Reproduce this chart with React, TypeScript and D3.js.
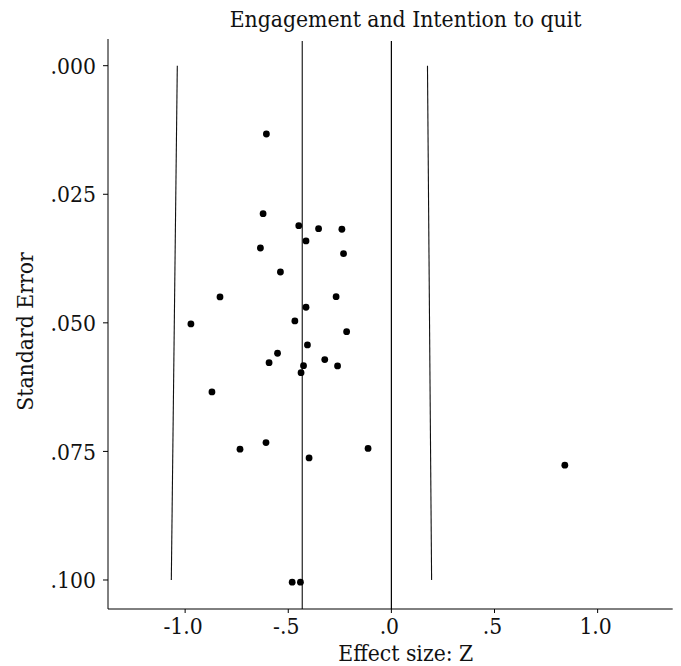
import React from "react";
import * as d3 from "d3";

const title = "Engagement and Intention to quit";
const xLabel = "Effect size: Z";
const yLabel = "Standard Error";

// Study effect sizes (Fisher Z) and standard errors
const effectZ = [
  -0.606, -0.622, -0.449, -0.353, -0.240, -0.414, -0.635, -0.232, -0.538, -0.831,
  -0.268, -0.414, -0.972, -0.468, -0.217, -0.407, -0.552, -0.593, -0.323, -0.426,
  -0.261, -0.438, -0.870, -0.608, -0.734, -0.113, -0.399, 0.841, -0.481, -0.441,
];
const stdErr = [
  0.01328, 0.02877, 0.0311, 0.03169, 0.0318, 0.03408, 0.03545, 0.03655, 0.04011, 0.04497,
  0.04491, 0.04697, 0.05021, 0.04963, 0.05171, 0.0543, 0.05591, 0.05774, 0.05715, 0.05832,
  0.05838, 0.05968, 0.06343, 0.07329, 0.07457, 0.07442, 0.07626, 0.07768, 0.10043, 0.10043,
];

// Funnel limits: [effect at SE=0, effect at SE=0.1]
const funnelLeft = [
  [-1.038, 0],
  [-1.067, 0.1],
];
const funnelRight = [
  [0.175, 0],
  [0.195, 0.1],
];
const meanEffect = -0.432;
const nullEffect = 0;

const xTicks = [-1.0, -0.5, 0, 0.5, 1.0];
const xTickLabels = ["-1.0", "-.5", ".0", ".5", "1.0"];
const yTicks = [0, 0.025, 0.05, 0.075, 0.1];
const yTickLabels = [".000", ".025", ".050", ".075", ".100"];

const FONT = "'DejaVu Serif Condensed', 'DejaVu Serif', serif";

export default function App() {
  const W = 681;
  const H = 666;
  const x = d3.scaleLinear().domain([-1.374, 1.364]).range([108, 672.7]);
  const y = d3.scaleLinear().domain([-0.00519, 0.10564]).range([39, 609]);
  const refTop = -0.0048;
  const [x0, x1] = x.range();
  const [y0, y1] = y.range();
  const line = d3
    .line<number[]>()
    .x((d) => x(d[0]))
    .y((d) => y(d[1]));

  const textStyle: React.CSSProperties = {
    fontFamily: FONT,
    fontStretch: "condensed",
    fontSize: 22.7,
    fill: "#111",
  };

  return (
    <svg
      width={W}
      height={H}
      style={{ position: "absolute", left: 0, top: 0, background: "#fff" }}
    >
      <rect x={0} y={0} width={W} height={H} fill="#fff" />
      {/* title */}
      <text x={405.5} y={27} textAnchor="middle" style={textStyle}>
        {title}
      </text>

      {/* reference lines */}
      <line
        x1={x(meanEffect)}
        x2={x(meanEffect)}
        y1={y(refTop)}
        y2={y1}
        stroke="#333"
        strokeWidth={1.3}
      />
      <line
        x1={x(nullEffect)}
        x2={x(nullEffect)}
        y1={y(refTop)}
        y2={y1}
        stroke="#000"
        strokeWidth={1.2}
      />
      <path d={line(funnelLeft) || ""} fill="none" stroke="#111" strokeWidth={1.1} />
      <path d={line(funnelRight) || ""} fill="none" stroke="#111" strokeWidth={1.1} />

      {/* points */}
      {effectZ.map((v, i) => (
        <circle key={i} cx={x(v)} cy={y(stdErr[i])} r={3.4} fill="#000" />
      ))}

      {/* axes */}
      <line x1={x0} x2={x0} y1={y0} y2={y1} stroke="#000" strokeWidth={1} />
      <line x1={x0} x2={x1} y1={y1} y2={y1} stroke="#000" strokeWidth={1} />

      {yTicks.map((t, i) => (
        <g key={"y" + i}>
          <line x1={x0 - 5} x2={x0} y1={y(t)} y2={y(t)} stroke="#000" strokeWidth={1} />
          <text
            x={96}
            y={y(t)}
            dy="0.36em"
            textAnchor="end"
            style={textStyle}
          >
            {yTickLabels[i]}
          </text>
        </g>
      ))}

      {xTicks.map((t, i) => (
        <g key={"x" + i}>
          <line x1={x(t)} x2={x(t)} y1={y1} y2={y1 + 4} stroke="#000" strokeWidth={1} />
          <text x={x(t) - 2} y={634} textAnchor="middle" style={textStyle}>
            {xTickLabels[i]}
          </text>
        </g>
      ))}

      <text x={405.8} y={661} textAnchor="middle" style={textStyle}>
        {xLabel}
      </text>
      <text
        transform={`translate(33, 331.5) rotate(-90)`}
        textAnchor="middle"
        style={textStyle}
      >
        {yLabel}
      </text>
    </svg>
  );
}
